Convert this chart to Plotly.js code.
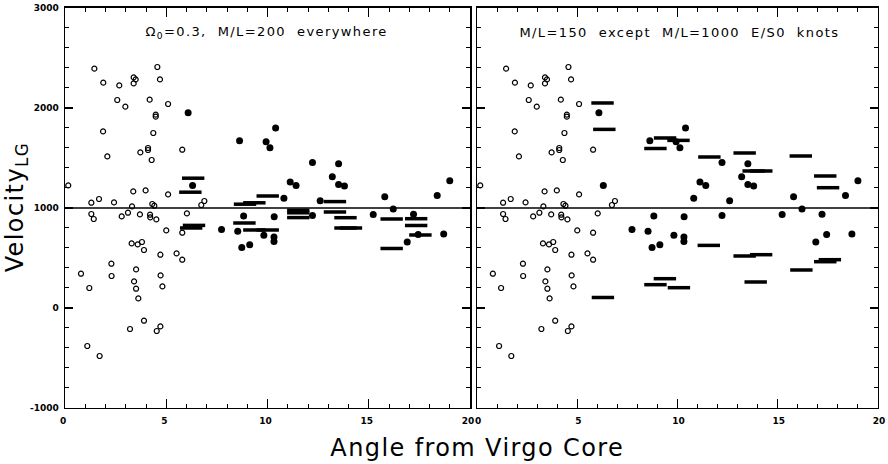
<!DOCTYPE html>
<html>
<head>
<meta charset="utf-8">
<script src="https://cdn.plot.ly/plotly-3.0.1.min.js"></script>
<style>
html,body{margin:0;padding:0;background:#fff;}
#chart{width:888px;height:464px;}
.annotation-text.spaced{letter-spacing:1.4px;}
</style>
</head>
<body>
<div id="chart"></div>
<script>
// Open circles (same galaxies in both panels): angle (deg), velocity (km/s)
const openX = [1.45,1.89,2.68,3.39,3.49,3.39,4.56,4.69,2.58,2.98,4.18,5.09,4.48,4.48,1.88,4.36,4.10,4.10,3.72,2.09,5.79,4.28,0.16,3.37,3.98,5.09,1.30,1.68,2.42,3.31,4.31,4.41,6.73,6.88,
               1.30,1.42,3.11,2.80,3.70,4.20,4.21,4.51,6.02,5.00,5.79,3.29,3.59,3.80,3.90,4.71,5.51,5.79,2.29,0.79,2.30,3.51,4.72,3.41,1.20,3.51,4.81,3.62,3.90,3.21,4.71,4.53,1.10,1.71];
const openV = [2393,2253,2226,2306,2286,2246,2410,2286,2080,2013,2083,2040,1933,1913,1766,1750,1600,1580,1556,1516,1583,1480,1226,1166,1176,1136,1053,1090,1056,1016,1040,1023,1030,1070,
               940,890,953,916,936,933,906,886,946,776,753,646,636,660,580,533,546,483,443,343,320,386,326,266,200,193,216,96,-127,-210,-184,-230,-380,-480];

// Filled circles (same in both panels)
const fillX = [6.08,6.30,8.62,10.40,9.93,10.12,12.22,13.51,11.12,11.41,13.20,13.51,13.80,10.81,12.60,15.79,18.38,19.00,16.21,15.22,17.21,8.82,10.33,12.22,7.73,8.53,9.82,10.32,10.32,8.73,9.12,16.90,17.44,18.70];
const fillV = [1952,1224,1672,1800,1663,1602,1455,1443,1260,1226,1312,1236,1220,1098,1073,1112,1125,1272,990,935,937,920,913,926,786,768,728,711,666,605,633,661,736,740];

// Model knot bars, left panel (Omega0=0.3, M/L=200 everywhere): center angle, velocity
const barLX = [6.33,6.19,6.37,6.23,8.89,9.35,10.01,8.86,9.35,10.01,11.52,11.52,11.52,13.33,13.33,13.85,13.85,14.12,16.13,16.13,17.34,17.34,17.55];
const barLV = [1298,1158,826,800,1038,1052,1120,850,780,780,977,952,904,1064,960,903,800,800,890,595,893,825,730];

// Model knot bars, right panel (M/L=150 except M/L=1000 E/S0 knots)
const barRX = [6.26,6.35,8.90,9.38,10.05,11.59,13.35,13.80,14.18,16.15,17.37,17.51,11.56,13.35,14.17,16.18,17.37,17.60,8.90,9.37,10.07,13.90,6.28];
const barRV = [2050,1786,1595,1700,1676,1510,1550,1370,1370,1520,1320,1203,626,520,533,380,463,483,233,293,203,260,105];

const xTickVals = [0,5,10,15,20];
const xTickTextL = ['0','5','10','15','20'];
const xTickTextR = ['0','5','10','15','20'];
const yTickVals = [-1000,0,1000,2000,3000];
const yTickText = ['-1000','0','1000','2000','3000'];

const panelTitles = ['Ω<sub>0</sub>=0.3,  M/L=200  everywhere', 'M/L=150  except  M/L=1000  E/S0  knots'];
const xTitle = 'Angle from Virgo Core';
const yTitle = 'Velocity<sub>LG</sub>';

const domL = [0.0732,0.5293];
const domR = [0.5372,0.9887];

function openTrace(xa, ya){
  return {x: openX, y: openV, xaxis: xa, yaxis: ya, type:'scatter', mode:'markers',
    marker:{symbol:'circle-open', size:5, color:'black', line:{width:1.2, color:'black'}},
    hoverinfo:'skip', showlegend:false};
}
function fillTrace(xa, ya){
  return {x: fillX, y: fillV, xaxis: xa, yaxis: ya, type:'scatter', mode:'markers',
    marker:{symbol:'circle', size:7, color:'black'}, hoverinfo:'skip', showlegend:false};
}
function barTrace(bx, bv, xa, ya){
  return {x: bx, y: bv, xaxis: xa, yaxis: ya, type:'scatter', mode:'markers',
    marker:{symbol:'line-ew', size:16, color:'black', line:{width:3.5, color:'black'}},
    hoverinfo:'skip', showlegend:false};
}

const data = [
  openTrace('x','y'), fillTrace('x','y'), barTrace(barLX, barLV, 'x','y'),
  openTrace('x2','y2'), fillTrace('x2','y2'), barTrace(barRX, barRV, 'x2','y2')
];

const tickFont = {family:'DejaVu Sans', size:9, color:'black', weight:'bold'};

function xAxis(domain, anchor, txt, shift){
  return {domain: domain, anchor: anchor, range:[0,20], showgrid:false, zeroline:false,
    showline:true, linecolor:'black', linewidth:1.5, mirror:'ticks',
    ticks:'inside', ticklen:9, tickwidth:1.2, tickcolor:'black',
    tickvals: xTickVals, ticktext: txt, tickfont: tickFont, ticklabelstandoff:4, ticklabelshift: shift,
    minor:{dtick:1, ticks:'inside', ticklen:4, tickwidth:1, tickcolor:'black', showgrid:false}};
}
function yAxis(anchor, labels){
  return {domain:[0.1207,0.9828], anchor: anchor, range:[-1000,3000], showgrid:false, zeroline:false,
    showline:true, linecolor:'black', linewidth:1.5, mirror:'ticks',
    ticks:'inside', ticklen:8, tickwidth:1.2, tickcolor:'black',
    tickvals: yTickVals, ticktext: yTickText, tickfont: tickFont, showticklabels: labels, ticklabelstandoff:3,
    minor:{dtick:200, ticks:'inside', ticklen:4, tickwidth:1, tickcolor:'black', showgrid:false}};
}

const layout = {
  width:888, height:464,
  margin:{l:0, r:0, t:0, b:0},
  paper_bgcolor:'white', plot_bgcolor:'white',
  showlegend:false,
  xaxis: xAxis(domL,'y', xTickTextL, -2),
  yaxis: yAxis('x', true),
  xaxis2: xAxis(domR,'y2', xTickTextR, 1),
  yaxis2: yAxis('x2', false),
  shapes:[
    {type:'line', xref:'x domain', yref:'y', x0:0, x1:1, y0:1000, y1:1000, line:{color:'black', width:1.5}},
    {type:'line', xref:'x2 domain', yref:'y2', x0:0, x1:1, y0:1000, y1:1000, line:{color:'black', width:1.5}}
  ],
  annotations:[
    {text: panelTitles[0], xref:'paper', yref:'paper', x:0.300, y:0.9295, xanchor:'center', yanchor:'middle',
     showarrow:false, font:{family:'DejaVu Sans', size:13, color:'black'}},
    {text: panelTitles[1], xref:'paper', yref:'paper', x:0.7647, y:0.9295, xanchor:'center', yanchor:'middle',
     showarrow:false, font:{family:'DejaVu Sans', size:13, color:'black'}},
    {text: xTitle, xref:'paper', yref:'paper', x:0.538, y:0.0345, xanchor:'center', yanchor:'middle',
     showarrow:false, font:{family:'DejaVu Sans', size:24, color:'black'}},
    {text: yTitle, xref:'paper', yref:'paper', x:0.019, y:0.555, xanchor:'center', yanchor:'middle', textangle:-90,
     showarrow:false, font:{family:'DejaVu Sans', size:24, color:'black'}}
  ]
};

Plotly.newPlot('chart', data, layout, {staticPlot:true, displayModeBar:false}).then(function(){
  document.querySelectorAll('.annotation-text').forEach(function(t){
    if (t.textContent.length > 3) t.classList.add('spaced');
  });
});
</script>
</body>
</html>
